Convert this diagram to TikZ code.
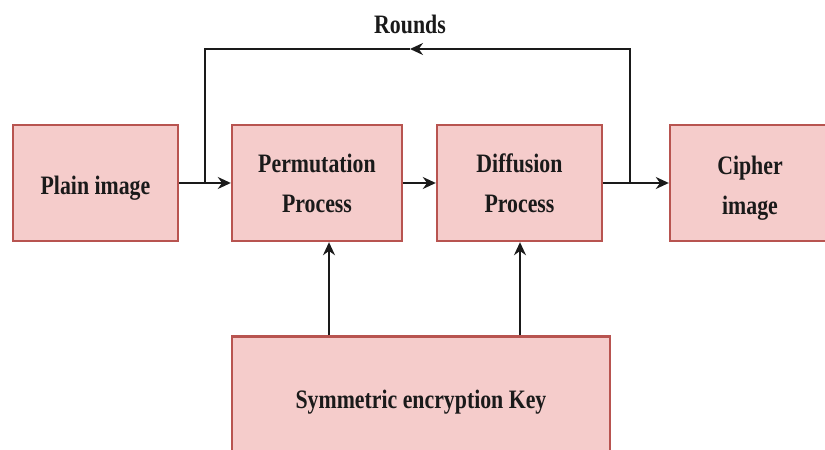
\documentclass[tikz,border=0pt]{standalone}
\usepackage{fontspec}
\setmainfont{Liberation Serif}[FakeStretch=0.82]
\usepackage{xcolor}
\usepackage{tikz}
\usetikzlibrary{arrows.meta, positioning, calc}
\definecolor{boxfill}{HTML}{F5CCCB}
\definecolor{boxline}{HTML}{B85450}
\definecolor{inkdark}{HTML}{1A1A1A}

\tikzset{
  blockbox/.style={draw=boxline, fill=boxfill, line width=1.2pt,
    font=\fontsize{13.3}{15.5}\selectfont\bfseries, text=inkdark, align=center,
    inner sep=0pt, text depth=0pt},
  flow/.style={draw=inkdark, line width=0.85pt, -{Stealth[length=6.5pt, width=6pt]}},
  wire/.style={draw=inkdark, line width=0.85pt}
}

\begin{document}
\begin{tikzpicture}[x=1pt, y=1pt]
\useasboundingbox (0,0) rectangle (412.5,225);
\clip (0,0) rectangle (412.5,225);
% main chain
\node[blockbox, minimum width=82.5pt, minimum height=58pt] (plain) at (47.75,133.5) {\raisebox{-2.5pt}{Plain image}};
\node[blockbox, minimum width=85pt, minimum height=58pt] (perm) at (158.5,133.5) {Permutation\\[4.5pt]Process};
\node[blockbox, minimum width=82.5pt, minimum height=58pt] (diff) at (259.75,133.5) {Diffusion\\[4.5pt]Process};
\node[blockbox, minimum width=80pt, minimum height=58pt] (cipher) at (375,133.5) {\raisebox{-2pt}{Cipher}\\[4.5pt]\raisebox{-2pt}{image}};
% key box underneath
\node[blockbox, minimum width=189pt, minimum height=61.5pt] (key) at (210.5,26) {\raisebox{-1.5pt}{Symmetric encryption Key}};
% rounds loop
\coordinate (jl) at (102.5,133.5);
\coordinate (jr) at (315,133.5);
\coordinate (tm) at (205,200.5);
\node[font=\fontsize{13.3}{15.5}\selectfont\bfseries, text=inkdark] (rounds) at (205,213) {Rounds};

\draw[flow] (plain) -- (perm);
\draw[flow] (perm) -- (diff);
\draw[flow] (diff) -- (cipher);
\draw[flow] (jr) |- (tm);
\draw[wire] (tm) -| (jl);
\draw[flow] (key.north -| 164.5,0) -- (perm.south -| 164.5,0);
\draw[flow] (key.north -| 260,0) -- (diff.south -| 260,0);
\end{tikzpicture}
\end{document}
